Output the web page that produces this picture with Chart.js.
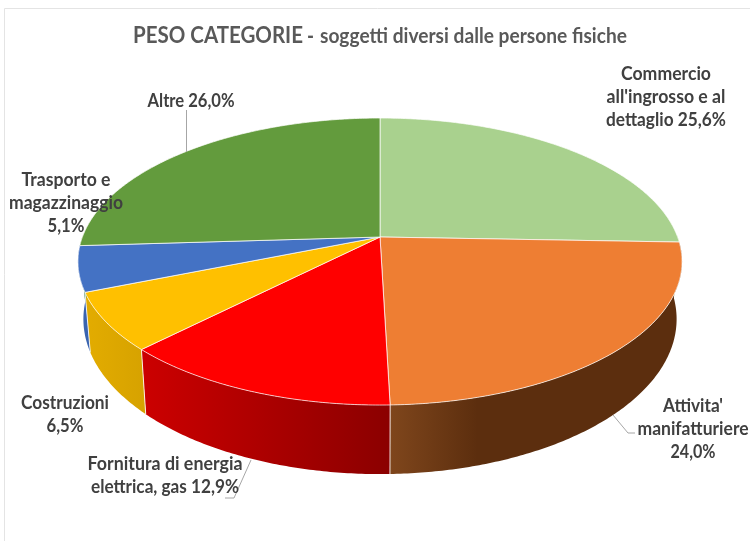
<!DOCTYPE html>
<html>
<head>
<meta charset="utf-8">
<script src="https://cdn.jsdelivr.net/npm/chart.js@4"></script>
<style>
  html, body { margin: 0; padding: 0; background: #fff; }
  canvas { display: block; }
</style>
</head>
<body>
<canvas id="chart" width="750" height="541"></canvas>
<script>
const categories = [
    "Commercio all'ingrosso e al dettaglio",
    "Attivita' manifatturiere",
    "Fornitura di energia elettrica, gas",
    "Costruzioni",
    "Trasporto e magazzinaggio",
    "Altre"
];
const shares = [25.6, 24.0, 12.9, 6.5, 5.1, 26.0];
const topColors = ['#A9D18E', '#EE7E33', '#FF0000', '#FFC000', '#4472C4', '#639B3D'];
const sideColors = [
    ['#A9D18E', '#A9D18E'],
    ['#5C2E0E', '#7F461C'],
    ['#8B0000', '#CC0000'],
    ['#D6A200', '#E3AC00'],
    ['#3A64B0', '#3A64B0'],
    ['#639B3D', '#639B3D']
];
const labelLines = [
    ["Commercio", "all'ingrosso e al", "dettaglio 25,6%"],
    ["Attivita'", "manifatturiere", "24,0%"],
    ["Fornitura di energia", "elettrica, gas 12,9%"],
    ["Costruzioni", "6,5%"],
    ["Trasporto e", "magazzinaggio", "5,1%"],
    ["Altre 26,0%"]
];

// where the label blocks sit: centre x, y of the first line, and how wide each line runs
const labelSpots = [[666, 74], [693, 406], [165, 464], [65, 403], [66, 180], [191, 101]];
const labelWidths = [[90, 119, 120], [60, 111, 45], [155, 148], [88, 37], [89, 114, 37], [87]];
const leaders = [
    [[186.5, 110], [186.5, 152]],
    [[613, 415], [628, 433], [635, 433]],
    [[251, 460], [234, 498], [225, 498]]
];

// perspective of the pie plane, looked at from above
const view = { cx: 380, cy: 237, a: 297.6, b: 139.3, p: 0.171, shrink: 0.982 };

function project(theta) {
    const u = Math.sin(theta), v = -Math.cos(theta);
    const s = 1 / (1 - view.p * v);
    return { x: view.cx + view.a * u * s, y: view.cy + view.b * v * s };
}

// same rim point, on the bottom of the cylinder
function projectLow(theta) {
    const t = project(theta);
    return {
        x: view.cx + (t.x - view.cx) * view.shrink,
        y: t.y + 60 + (t.y - 292) * 0.08
    };
}

function rim(a0, a1, fn) {
    const n = Math.max(2, Math.ceil((a1 - a0) / 0.01));
    const out = [];
    for (let i = 0; i <= n; i++) out.push(fn(a0 + (a1 - a0) * i / n));
    return out;
}

const pie3d = {
    id: 'pie3d',
    beforeDatasetsDraw(chart) {
        const ctx = chart.ctx;
        const arcs = chart.getDatasetMeta(0).data;
        const slices = arcs.map((arc, i) => ({
            i,
            from: arc.startAngle + Math.PI / 2,
            to: arc.endAngle + Math.PI / 2
        }));

        // the wall, only the part facing us
        slices.forEach(({ i, from, to }) => {
            const a0 = Math.max(from, Math.PI / 2 - 0.02);
            const a1 = Math.min(to, 3 * Math.PI / 2 + 0.02);
            if (a1 <= a0) return;
            const upper = rim(a0, a1, project);
            const lower = rim(a0, a1, projectLow);
            const xs = upper.concat(lower).map(q => q.x);
            const g = ctx.createLinearGradient(Math.max(...xs), 0, Math.min(...xs), 0);
            g.addColorStop(0, sideColors[i][0]);
            if (i === 1) g.addColorStop(0.7, sideColors[i][0]);
            g.addColorStop(1, sideColors[i][1]);
            ctx.beginPath();
            upper.forEach((q, k) => k ? ctx.lineTo(q.x, q.y) : ctx.moveTo(q.x, q.y));
            lower.reverse().forEach(q => ctx.lineTo(q.x, q.y));
            ctx.closePath();
            ctx.fillStyle = g;
            ctx.fill();
        });

        // white seams between the wall pieces
        ctx.strokeStyle = 'rgba(255,255,255,0.85)';
        ctx.lineWidth = 1;
        slices.forEach(({ to }) => {
            if (to < Math.PI / 2 + 0.1 || to > 3 * Math.PI / 2 - 0.2) return;
            const t = project(to), l = projectLow(to);
            ctx.beginPath();
            ctx.moveTo(t.x, t.y);
            ctx.lineTo(l.x, l.y);
            ctx.stroke();
        });

        // top face
        slices.forEach(({ i, from, to }) => {
            const pts = rim(from, to, project);
            ctx.beginPath();
            ctx.moveTo(view.cx, view.cy);
            pts.forEach(q => ctx.lineTo(q.x, q.y));
            ctx.closePath();
            ctx.fillStyle = topColors[i];
            ctx.fill();
            ctx.strokeStyle = 'rgba(255,255,255,0.7)';
            ctx.lineWidth = 1;
            ctx.stroke();
        });
        return false;
    },
    afterDraw(chart) {
        const ctx = chart.ctx;
        ctx.save();

        // frame
        ctx.strokeStyle = '#E4E4E4';
        ctx.lineWidth = 1;
        ctx.beginPath();
        ctx.moveTo(4.5, 541);
        ctx.lineTo(4.5, 8.5);
        ctx.lineTo(750, 8.5);
        ctx.stroke();

        // leader lines
        ctx.strokeStyle = '#A6A6A6';
        leaders.forEach(line => {
            ctx.beginPath();
            line.forEach((q, k) => k ? ctx.lineTo(q[0], q[1]) : ctx.moveTo(q[0], q[1]));
            ctx.stroke();
        });

        // title in two sizes
        ctx.textBaseline = 'middle';
        ctx.textAlign = 'left';
        ctx.fillStyle = '#595959';
        ctx.font = 'bold 22px Lato';
        ctx.fillText('PESO CATEGORIE', 133, 36, 170);
        ctx.fillText('-', 307, 37, 7);
        ctx.font = 'bold 20px Lato';
        ctx.fillText('soggetti diversi dalle persone fisiche', 320, 37, 307);

        // data labels
        ctx.textAlign = 'center';
        ctx.fillStyle = '#404040';
        ctx.font = 'bold 18px Lato';
        labelLines.forEach((lines, i) => {
            lines.forEach((text, k) => {
                ctx.fillText(text, labelSpots[i][0], labelSpots[i][1] + k * 23, labelWidths[i][k]);
            });
        });
        ctx.restore();
    }
};

new Chart(document.getElementById('chart'), {
    type: 'pie',
    data: {
        labels: categories,
        datasets: [{ data: shares, backgroundColor: topColors, borderWidth: 0 }]
    },
    options: {
        responsive: false,
        animation: false,
        plugins: {
            legend: { display: false },
            tooltip: { enabled: false }
        }
    },
    plugins: [pie3d]
});
</script>
</body>
</html>
